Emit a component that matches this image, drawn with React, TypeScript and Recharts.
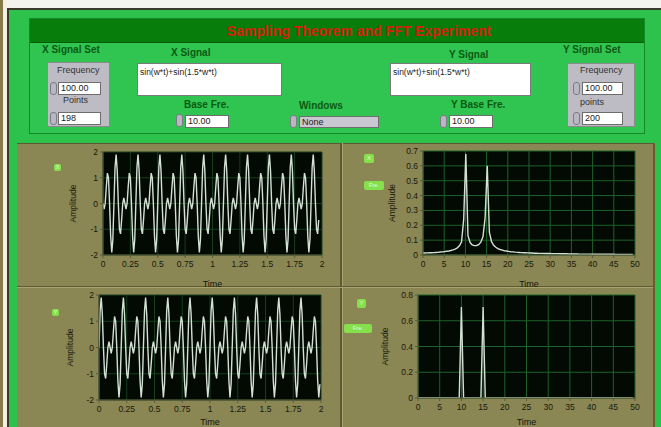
import React from "react";
import { LineChart, Line, XAxis, YAxis, CartesianGrid } from "recharts";

const FS = 100;
const X_POINTS = 198;
const Y_POINTS = 200;

// x signal, 198 samples at 100 Hz
const X_WAVE = [
  0, -0.22, 0, 0.64, 1.18, 1, 0, -1.26, -1.9, -1.4, 0, 1.4, 1.9, 1.26, 0, -1, -1.18, -0.64, 0, 0.22,
  0, -0.22, 0, 0.64, 1.18, 1, 0, -1.26, -1.9, -1.4, 0, 1.4, 1.9, 1.26, 0, -1, -1.18, -0.64, 0, 0.22,
  0, -0.22, 0, 0.64, 1.18, 1, 0, -1.26, -1.9, -1.4, 0, 1.4, 1.9, 1.26, 0, -1, -1.18, -0.64, 0, 0.22,
  0, -0.22, 0, 0.64, 1.18, 1, 0, -1.26, -1.9, -1.4, 0, 1.4, 1.9, 1.26, 0, -1, -1.18, -0.64, 0, 0.22,
  0, -0.22, 0, 0.64, 1.18, 1, 0, -1.26, -1.9, -1.4, 0, 1.4, 1.9, 1.26, 0, -1, -1.18, -0.64, 0, 0.22,
  0, -0.22, 0, 0.64, 1.18, 1, 0, -1.26, -1.9, -1.4, 0, 1.4, 1.9, 1.26, 0, -1, -1.18, -0.64, 0, 0.22,
  0, -0.22, 0, 0.64, 1.18, 1, 0, -1.26, -1.9, -1.4, 0, 1.4, 1.9, 1.26, 0, -1, -1.18, -0.64, 0, 0.22,
  0, -0.22, 0, 0.64, 1.18, 1, 0, -1.26, -1.9, -1.4, 0, 1.4, 1.9, 1.26, 0, -1, -1.18, -0.64, 0, 0.22,
  0, -0.22, 0, 0.64, 1.18, 1, 0, -1.26, -1.9, -1.4, 0, 1.4, 1.9, 1.26, 0, -1, -1.18, -0.64, 0, 0.22,
  0, -0.22, 0, 0.64, 1.18, 1, 0, -1.26, -1.9, -1.4, 0, 1.4, 1.9, 1.26, 0, -1, -1.18, -0.64,
];

// y signal, 200 samples at 100 Hz
const Y_WAVE = [
  0, 1.4, 1.9, 1.26, 0, -1, -1.18, -0.64, 0, 0.22, 0, -0.22, 0, 0.64, 1.18, 1, 0, -1.26, -1.9, -1.4,
  0, 1.4, 1.9, 1.26, 0, -1, -1.18, -0.64, 0, 0.22, 0, -0.22, 0, 0.64, 1.18, 1, 0, -1.26, -1.9, -1.4,
  0, 1.4, 1.9, 1.26, 0, -1, -1.18, -0.64, 0, 0.22, 0, -0.22, 0, 0.64, 1.18, 1, 0, -1.26, -1.9, -1.4,
  0, 1.4, 1.9, 1.26, 0, -1, -1.18, -0.64, 0, 0.22, 0, -0.22, 0, 0.64, 1.18, 1, 0, -1.26, -1.9, -1.4,
  0, 1.4, 1.9, 1.26, 0, -1, -1.18, -0.64, 0, 0.22, 0, -0.22, 0, 0.64, 1.18, 1, 0, -1.26, -1.9, -1.4,
  0, 1.4, 1.9, 1.26, 0, -1, -1.18, -0.64, 0, 0.22, 0, -0.22, 0, 0.64, 1.18, 1, 0, -1.26, -1.9, -1.4,
  0, 1.4, 1.9, 1.26, 0, -1, -1.18, -0.64, 0, 0.22, 0, -0.22, 0, 0.64, 1.18, 1, 0, -1.26, -1.9, -1.4,
  0, 1.4, 1.9, 1.26, 0, -1, -1.18, -0.64, 0, 0.22, 0, -0.22, 0, 0.64, 1.18, 1, 0, -1.26, -1.9, -1.4,
  0, 1.4, 1.9, 1.26, 0, -1, -1.18, -0.64, 0, 0.22, 0, -0.22, 0, 0.64, 1.18, 1, 0, -1.26, -1.9, -1.4,
  0, 1.4, 1.9, 1.26, 0, -1, -1.18, -0.64, 0, 0.22, 0, -0.22, 0, 0.64, 1.18, 1, 0, -1.26, -1.9, -1.4,
];

// amplitude spectrum of x (bins of 100/198 Hz)
const X_SPEC = [
  0.013, 0.013, 0.014, 0.015, 0.015, 0.016, 0.017, 0.018, 0.02, 0.021,
  0.023, 0.025, 0.027, 0.03, 0.034, 0.04, 0.048, 0.062, 0.089, 0.24,
  0.68, 0.13, 0.084, 0.068, 0.063, 0.064, 0.07, 0.086, 0.123, 0.25,
  0.6, 0.152, 0.09, 0.065, 0.052, 0.043, 0.037, 0.033, 0.029, 0.027,
  0.024, 0.022, 0.021, 0.019, 0.018, 0.017, 0.016, 0.015, 0.015, 0.014,
  0.013, 0.013, 0.012, 0.012, 0.011, 0.011, 0.011, 0.01, 0.01, 0.01,
  0.009, 0.009, 0.009, 0.009, 0.008, 0.008, 0.008, 0.008, 0.007, 0.007,
  0.007, 0.007, 0.007, 0.006, 0.006, 0.006, 0.006, 0.006, 0.006, 0.005,
  0.005, 0.005, 0.005, 0.005, 0.005, 0.005, 0.005, 0.005, 0.005, 0.005,
  0.004, 0.004, 0.004, 0.004, 0.004, 0.004, 0.004, 0.004, 0.004,
];

// amplitude spectrum of y (bins of 0.5 Hz)
const Y_SPEC = [
  0, 0, 0, 0, 0, 0, 0, 0, 0, 0,
  0, 0, 0, 0, 0, 0, 0, 0, 0, 0,
  0.707, 0, 0, 0, 0, 0, 0, 0, 0, 0,
  0.707, 0, 0, 0, 0, 0, 0, 0, 0, 0,
  0, 0, 0, 0, 0, 0, 0, 0, 0, 0,
  0, 0, 0, 0, 0, 0, 0, 0, 0, 0,
  0, 0, 0, 0, 0, 0, 0, 0, 0, 0,
  0, 0, 0, 0, 0, 0, 0, 0, 0, 0,
  0, 0, 0, 0, 0, 0, 0, 0, 0, 0,
  0, 0, 0, 0, 0, 0, 0, 0, 0, 0,
];

const TIME_TICKS = [0, 0.25, 0.5, 0.75, 1, 1.25, 1.5, 1.75, 2];
const WAVE_TICKS = [-2, -1, 0, 1, 2];
const FREQ_TICKS = [0, 5, 10, 15, 20, 25, 30, 35, 40, 45, 50];
const X_SPEC_TICKS = [0, 0.1, 0.2, 0.3, 0.4, 0.5, 0.6, 0.7];
const Y_SPEC_TICKS = [0, 0.2, 0.4, 0.6, 0.8];

const xWaveData = X_WAVE.map((v, i) => ({ x: i / FS, y: v }));
const yWaveData = Y_WAVE.map((v, i) => ({ x: i / FS, y: v }));
const xSpecData = X_SPEC.map((v, i) => ({ x: (i * FS) / X_POINTS, y: v }));
const ySpecData = Y_SPEC.map((v, i) => ({ x: (i * FS) / Y_POINTS, y: v }));

const FONT = "'Liberation Sans', Arial, sans-serif";
const GREEN = "#2cc24c";
const OLIVE = "#8b8754";
const LABEL = "#0b5a12";
const INK = "#17170c";

function Box({ x, y, w, h, bg, border, children, style }: any) {
  return (
    <div
      style={{
        position: "absolute", left: x, top: y, width: w, height: h, background: bg,
        border: border ? `1px solid ${border}` : undefined, boxSizing: "border-box", ...style,
      }}
    >
      {children}
    </div>
  );
}

function Txt({ x, y, text, size = 10, color = LABEL, bold = true }: any) {
  return (
    <div style={{ position: "absolute", left: x, top: y, fontSize: size, fontWeight: bold ? 700 : 400, color, whiteSpace: "nowrap", lineHeight: 1 }}>
      {text}
    </div>
  );
}

function Field({ x, y, w, h = 13, text, bg = "#fff" }: any) {
  return (
    <Box x={x} y={y} w={w} h={h} bg={bg} border="#6d6d6d" style={{ fontSize: 9, color: "#222", paddingLeft: 2, lineHeight: `${h - 2}px` }}>
      {text}
    </Box>
  );
}

function Spin({ x, y }: any) {
  return <Box x={x} y={y} w={7} h={13} bg="#b9b8c2" border="#7b7b86" style={{ borderRadius: 3 }} />;
}

function Pill({ x, y, w, h = 9, text }: any) {
  return (
    <Box x={x} y={y} w={w} h={h} bg="#86e04e" style={{ borderRadius: 2, fontSize: 6, color: "#dfffd0", textAlign: "center", lineHeight: `${h}px` }}>
      {text}
    </Box>
  );
}

function Scope({ left, top, width, height, yw, data, xDomain, xTicks, yDomain, yTicks, grid, labelOffset = 2 }: any) {
  const tickStyle = { fontSize: 8.5, fill: INK, fontFamily: FONT };
  return (
    <div style={{ position: "absolute", left, top }}>
      <LineChart width={width} height={height} data={data} margin={{ top: 4, right: 8, left: 0, bottom: 0 }}>
        <CartesianGrid fill="#030a04" fillOpacity={1} stroke={grid} strokeWidth={1} />
        <XAxis
          type="number" dataKey="x" domain={xDomain} ticks={xTicks} interval={0} allowDataOverflow
          height={34} tickSize={3} tickMargin={3} tick={tickStyle} stroke="#5c5a3c"
          label={{ value: "Time", position: "insideBottom", offset: labelOffset, fontSize: 9, fill: INK, fontFamily: FONT }}
        />
        <YAxis
          type="number" domain={yDomain} ticks={yTicks} interval={0} allowDataOverflow
          width={yw} tickSize={3} tickMargin={2} tick={tickStyle} stroke="#5c5a3c"
          label={{ value: "Amplitude", angle: -90, position: "center", fontSize: 8.5, fill: INK, fontFamily: FONT }}
        />
        <Line type="linear" dataKey="y" stroke="#d3e0d4" strokeWidth={1.4} dot={false} isAnimationActive={false} />
      </LineChart>
    </div>
  );
}

export default function App() {
  return (
    <div style={{ position: "absolute", left: 0, top: 0, width: 661, height: 427, overflow: "hidden", background: OLIVE, fontFamily: FONT }}>
      {/* frame */}
      <Box x={0} y={0} w={3} h={427} bg="#857a48" />
      <Box x={3} y={0} w={658} h={8} bg="#f3f3ee" />
      <Box x={3} y={0} w={4} h={427} bg="#f2f0e6" />
      <Box x={7} y={8} w={654} h={2} bg="#3a3a2a" />
      <Box x={7} y={8} w={2} h={419} bg="#3a3a2a" />
      <Box x={9} y={10} w={652} h={133} bg={GREEN} />
      <Box x={9} y={143} w={8} h={284} bg={GREEN} />
      <Box x={653} y={143} w={2} h={284} bg="#6b5a30" />
      <Box x={655} y={143} w={6} h={284} bg={GREEN} />
      <Box x={17} y={143} w={636} h={1} bg="#5d5a33" />

      {/* chart panel separators */}
      <Box x={340} y={143} w={2} h={284} bg="#5d5a33" />
      <Box x={342} y={143} w={1} h={284} bg="#a9a571" />
      <Box x={17} y={286} w={636} h={1} bg="#5d5a33" />
      <Box x={17} y={287} w={636} h={1} bg="#a9a571" />

      {/* control panel */}
      <Box x={29} y={18} w={616} h={116} bg="#30c450" border="#14882a" />
      <Box x={30} y={19} w={614} h={24} bg="#077d0c" style={{ borderBottom: "1px solid #0a5a0a" }} />
      <div style={{ position: "absolute", left: 30, top: 19, width: 614, height: 24, lineHeight: "24px", textAlign: "center", color: "#d4200a", fontWeight: 700, fontSize: 14, paddingLeft: 44, boxSizing: "border-box" }}>
        Sampling Theorem and FFT Experiment
      </div>

      <Txt x={42} y={45} text="X Signal Set" />
      <Box x={47} y={62} w={63} h={65} bg="#bdbcc4" border="#8a8a8a" />
      <Txt x={57} y={66} text="Frequency" size={9} color="#333" bold={false} />
      <Spin x={50} y={82} />
      <Field x={58} y={82} w={43} text="100.00" />
      <Txt x={63} y={96} text="Points" size={9} color="#333" bold={false} />
      <Spin x={50} y={112} />
      <Field x={58} y={112} w={43} text="198" />

      <Txt x={171} y={48} text="X Signal" />
      <Box x={137} y={63} w={145} h={33} bg="#fff" border="#7a7a7a" style={{ fontSize: 8.5, color: "#222", padding: "3px 2px" }}>
        sin(w*t)+sin(1.5*w*t)
      </Box>
      <Txt x={184} y={100} text="Base Fre." />
      <Spin x={176} y={114} />
      <Field x={185} y={115} w={44} text="10.00" />

      <Txt x={299} y={101} text="Windows" />
      <Spin x={290} y={115} />
      <Field x={299} y={116} w={80} h={12} text="None" bg="#c9c8d2" />

      <Txt x={449} y={50} text="Y Signal" />
      <Box x={390} y={63} w={141} h={33} bg="#fff" border="#7a7a7a" style={{ fontSize: 8.5, color: "#222", padding: "3px 2px" }}>
        sin(w*t)+sin(1.5*w*t)
      </Box>
      <Txt x={451} y={100} text="Y Base Fre." />
      <Spin x={440} y={115} />
      <Field x={449} y={115} w={44} text="10.00" />

      <Txt x={563} y={45} text="Y Signal Set" />
      <Box x={567} y={63} w={68} h={64} bg="#bdbcc4" border="#8a8a8a" />
      <Txt x={580} y={66} text="Frequency" size={9} color="#333" bold={false} />
      <Spin x={573} y={82} />
      <Field x={582} y={82} w={41} text="100.00" />
      <Txt x={580} y={98} text="points" size={9} color="#333" bold={false} />
      <Spin x={573} y={112} />
      <Field x={582} y={112} w={41} text="200" />

      {/* plot legends */}
      <Pill x={54} y={164} w={7} h={7} text="X" />
      <Pill x={364} y={154} w={10} text="X" />
      <Pill x={364} y={181} w={20} text="Fre." />
      <Pill x={52} y={309} w={7} h={7} text="Y" />
      <Pill x={357} y={299} w={9} text="Y" />
      <Pill x={344} y={324} w={28} text="Fre." />

      <Scope left={43} top={148} width={287} height={141} yw={60} data={xWaveData}
        xDomain={[0, 2]} xTicks={TIME_TICKS} yDomain={[-2, 2]} yTicks={WAVE_TICKS} grid="#173f1d" />
      <Scope left={361} top={147} width={282} height={142} yw={62} data={xSpecData}
        xDomain={[0, 50]} xTicks={FREQ_TICKS} yDomain={[0, 0.7]} yTicks={X_SPEC_TICKS} grid="#1d6228" />
      <Scope left={41} top={291} width={288} height={143} yw={58} data={yWaveData} labelOffset={9}
        xDomain={[0, 2]} xTicks={TIME_TICKS} yDomain={[-2, 2]} yTicks={WAVE_TICKS} grid="#173f1d" />
      <Scope left={352} top={291} width={291} height={141} yw={66} data={ySpecData} labelOffset={7}
        xDomain={[0, 50]} xTicks={FREQ_TICKS} yDomain={[0, 0.8]} yTicks={Y_SPEC_TICKS} grid="#1d6228" />
    </div>
  );
}
